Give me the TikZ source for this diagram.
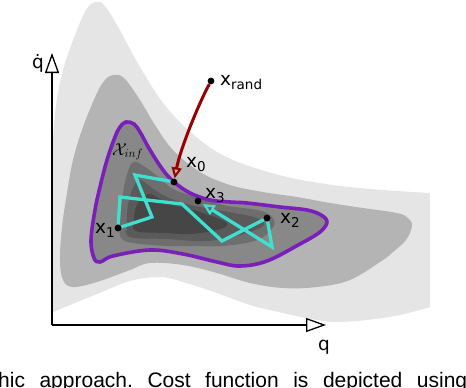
\documentclass[tikz,border=0pt]{standalone}
\usepackage{fontspec}
\newfontfamily\lblfont{DejaVu Sans}
\newfontfamily\capfont{Liberation Sans}
\usetikzlibrary{arrows.meta}
\definecolor{lvA}{RGB}{229,229,229}
\definecolor{lvB}{RGB}{180,180,180}
\definecolor{lvC}{RGB}{136,136,136}
\definecolor{lvD}{RGB}{110,110,110}
\definecolor{lvE}{RGB}{90,90,90}
\definecolor{lvF}{RGB}{70,70,70}
\definecolor{infpurple}{RGB}{122,31,186}
\definecolor{pathcyan}{RGB}{64,224,208}
\definecolor{randred}{RGB}{150,0,0}
\pgfdeclarelayer{fg}
\pgfsetlayers{main,fg}
\newcommand\xsub[1]{x\raisebox{-4.5pt}{\fontsize{13.5}{13.5}\selectfont #1}}
\begin{document}
\begin{tikzpicture}[x=1pt,y=-1pt,
  dot/.style={circle,fill=black,inner sep=0pt,minimum size=6.8pt},
  lbl/.style={anchor=base west,inner sep=0pt,font=\lblfont\fontsize{18.5}{18.5}\selectfont},
  axisline/.style={line width=1.3pt,-{Triangle[open,fill=white,length=20pt,width=14pt]}},
  contour/.style={smooth cycle,tension=0.6},
  cyanpath/.style={pathcyan,line width=3.3pt,line join=miter},
  randarrow/.style={randred,line width=3pt,-{Triangle[open,length=11pt,width=10pt,line width=2pt]}}]
\useasboundingbox (0,0) rectangle (466,388);
\clip (0,0) rectangle (466,388);
% cost contours
\fill[lvA] (53,312) -- (53,140)
  -- plot[smooth,tension=0.6] coordinates {(53,140) (56,105) (63,70) (75,35) (86,10) (95,2) (104,5) (117,25) (140,67) (167,108) (200,140) (233,160) (283,176) (333,185) (383,190) (430,193)}
  -- (430,307)
  -- plot[smooth,tension=0.6] coordinates {(430,307) (400,315) (367,320) (337,322) (317,320) (283,313) (250,305) (217,293) (183,282) (160,277) (130,281) (97,294) (53,312)}
  -- cycle;
\fill[lvB] plot[contour] coordinates {(113,75) (124,78) (140,100) (155,125) (173,150) (200,172) (230,185) (263,192) (297,197) (330,203) (363,208) (397,213) (408,218) (412,226) (406,240) (393,252) (383,260) (350,280) (317,287) (283,288) (250,283) (217,273) (183,265) (150,263) (130,270) (97,282) (73,287) (63,280) (60,260) (62,227) (67,193) (73,160) (83,127) (97,93) (105,80)};
\def\infshape{(126,122) (134,124) (140,132) (150,150) (163,170) (174,182) (190,193) (210,200) (230,202) (247,203) (280,207) (307,210) (321,215) (327,222) (320,232) (300,244) (267,261) (240,266) (217,262) (183,254) (150,250) (113,256) (100,262) (94,258) (91,240) (95,210) (100,187) (107,160) (115,137) (120,127)}
\fill[lvC] plot[contour] coordinates {\infshape};
\fill[lvD] plot[contour] coordinates {(133,162) (145,167) (157,176) (173,189) (193,196) (223,205) (257,210) (270,215) (274,226) (257,240) (223,246) (193,246) (167,246) (133,243) (121,238) (120,225) (122,200) (126,178)};
\fill[lvE] plot[contour] coordinates {(140,180) (152,188) (167,197) (190,205) (223,211) (257,218) (263,226) (240,235) (207,241) (167,239) (130,237) (127,225) (128,205) (133,188)};
\fill[lvF] plot[contour] coordinates {(148,194) (160,199) (173,205) (200,212) (227,223) (217,230) (190,234) (167,233) (136,231) (134,220) (137,205)};
\draw[infpurple,line width=3.6pt] plot[contour] coordinates {\infshape};
% axes
\coordinate (O) at (52,325);
\coordinate (ytip) at (52,53);
\coordinate (xtip) at (326,325);
\draw[axisline] (O) -- (ytip);
\draw[axisline] (O) -- (xtip);
\node[lbl] (qdot) at (32,68) {\.{q}};
\node[lbl] (qlab) at (318,350) {q};
% points and labels
\begin{pgfonlayer}{fg}
\node[dot] (xr) at (211,81) {};
\node[dot] (x0) at (174,182) {};
\node[dot] (x1) at (118,228) {};
\node[dot] (x2) at (267,218) {};
\node[dot] (x3) at (198,201) {};
\node[lbl] (lxr) at (220,85) {\xsub{rand}};
\node[lbl] (lx0) at (186,167) {\xsub{0}};
\node[lbl] (lx1) at (95,233) {\xsub{1}};
\node[lbl] (lx2) at (280,223) {\xsub{2}};
\node[lbl] (lx3) at (205,198) {\xsub{3}};
\node[anchor=base west,inner sep=0pt,font=\fontsize{17}{17}\selectfont] (linf) at (112,155) {$\mathcal{X}_{inf}$};
\end{pgfonlayer}
% trajectory
\draw[cyanpath,-{Triangle[open,length=12pt,width=11pt,line width=2.2pt]},shorten >=2pt]
  (x0) -- (135,175) -- (152,217) -- (x1) -- (120,197) -- (182,204) -- (222,241) -- (x2) -- (272,247) -- (x3);
% random sample extension
\draw[randarrow] (xr) .. controls (198,105) and (180,150) .. (x0);
% caption fragment
\node[anchor=base west,inner sep=0pt,font=\capfont\fontsize{21}{21}\selectfont] (cap) at (-2,387) {\frenchspacing\makebox[469pt][s]{hic approach. Cost function is depicted using}};
\end{tikzpicture}
\end{document}
